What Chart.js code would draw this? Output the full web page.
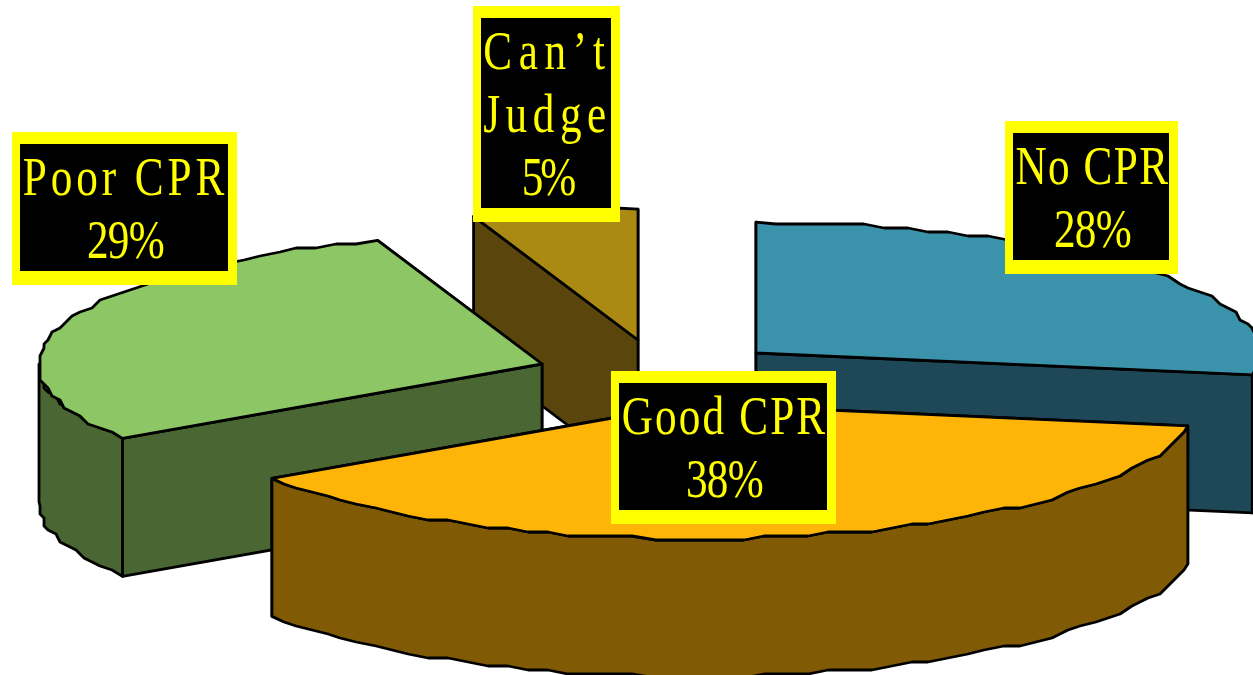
<!DOCTYPE html>
<html>
<head>
<meta charset="utf-8">
<style>
  html, body { margin: 0; padding: 0; background: #fff; overflow: hidden; }
  canvas { display: block; }
</style>
<script src="https://cdn.jsdelivr.net/npm/chart.js@4/dist/chart.umd.min.js"></script>
</head>
<body>
<canvas id="myChart" width="1253" height="675"></canvas>
<script>
// clockwise from 12 o'clock
var categories = ["No CPR", "Good CPR", "Poor CPR", ["Can\u2019t", "Judge"]];
var values = [27.6, 38.1, 29.0, 5.3];

var topColors = ["#3B92AB", "#FFB508", "#8CC665", "#AB8A14"];
var sideColors = ["#1E4758", "#805A04", "#4A6633", "#5A450C"];

// look of the tilted, exploded pie
var squashBack = 0.26;
var squashFront = 0.268;
var depth = 138;
var pieRadius = 503;
var explodeX = [129.5, 65, -84.5, 11.5];
var explodeY = [15.5, 66.5, 26.5, 2.5];
var paintOrder = [3, 0, 2, 1]; // back to front

// yellow label boxes: left, top, right, bottom of the outer edge
var labelBoxes = [
  [1005, 121, 1178, 274],
  [611, 371, 836, 524],
  [12, 132, 237, 285],
  [473, 6, 620, 222]
];
var charCell = 25.7;
var glyphWidth = 0.8;

function outline(cx, cy, from, to) {
  var pts = [];
  var n = Math.max(2, Math.ceil((to - from) * pieRadius / 22));
  for (var i = 0; i <= n; i++) {
    var a = from + (to - from) * i / n;
    var s = Math.sin(a);
    var x = cx + pieRadius * Math.cos(a);
    var y = cy + pieRadius * (s > 0 ? squashFront : squashBack) * s;
    // the original's outline is coarse and stepped
    if (i > 0 && i < n) {
      x = Math.round(x / 4) * 4;
      y = Math.round(y / 4) * 4;
    }
    pts.push([x, y]);
  }
  return pts;
}

function face(ctx, pts, fill) {
  ctx.beginPath();
  pts.forEach(function (p, i) {
    if (i == 0) ctx.moveTo(p[0], p[1]);
    else ctx.lineTo(p[0], p[1]);
  });
  ctx.closePath();
  ctx.fillStyle = fill;
  ctx.fill();
  ctx.stroke();
}

function drawSlice(ctx, arc, i) {
  var ax = arc.x + explodeX[i];
  var ay = arc.y + explodeY[i];
  var rim = outline(ax, ay, arc.startAngle, arc.endAngle);
  var ends = [rim[0], rim[rim.length - 1]];

  // cut faces, the one further back first
  ends.sort(function (p, q) { return p[1] - q[1]; });
  ends.forEach(function (p) {
    face(ctx, [[ax, ay], p, [p[0], p[1] + depth], [ax, ay + depth]], sideColors[i]);
  });

  // outer wall, only the part turned toward the viewer
  var lo = Math.max(arc.startAngle, 0);
  var hi = Math.min(arc.endAngle, Math.PI);
  if (lo < hi) {
    var upper = outline(ax, ay, lo, hi);
    var lower = upper.map(function (p) { return [p[0], p[1] + depth]; }).reverse();
    face(ctx, upper.concat(lower), sideColors[i]);
  }

  face(ctx, [[ax, ay]].concat(rim), topColors[i]);
}

function drawLabel(ctx, i) {
  var b = labelBoxes[i];
  ctx.fillStyle = "#FFFF00";
  ctx.fillRect(b[0], b[1], b[2] - b[0], b[3] - b[1]);
  ctx.fillStyle = "#000";
  ctx.fillRect(b[0] + 8, b[1] + 12, b[2] - b[0] - 17, b[3] - b[1] - 26);

  var lines = [].concat(categories[i], Math.round(values[i]) + "%");
  ctx.fillStyle = "#FFFF00";
  ctx.textAlign = "center";
  ctx.textBaseline = "alphabetic";
  lines.forEach(function (txt, k) {
    // the original font sets every character in the same width,
    // narrow glyphs with wide gaps
    ctx.font = "54px 'Liberation Serif'";
    ctx.letterSpacing = "0px";
    var natural = ctx.measureText(txt).width;
    var gap = (txt.length * charCell / glyphWidth - natural) / txt.length;
    ctx.save();
    ctx.letterSpacing = gap.toFixed(2) + "px";
    ctx.translate((b[0] + b[2]) / 2 + 1, b[1] + 63 + k * 63);
    ctx.scale(glyphWidth, 1);
    ctx.fillText(txt, 0, 0);
    ctx.restore();
  });
  ctx.letterSpacing = "0px";
}

var pie3d = {
  id: "pie3d",
  beforeDatasetsDraw: function (chart) {
    var ctx = chart.ctx;
    var arcs = chart.getDatasetMeta(0).data;
    ctx.save();
    ctx.strokeStyle = "#000";
    ctx.lineWidth = 2.8;
    ctx.lineJoin = "round";
    paintOrder.forEach(function (i) { drawSlice(ctx, arcs[i], i); });
    paintOrder.forEach(function (i) { drawLabel(ctx, i); });
    ctx.restore();
    return false;
  }
};

new Chart(document.getElementById("myChart"), {
  type: "pie",
  data: {
    labels: categories,
    datasets: [{ data: values, backgroundColor: topColors, borderColor: "#000" }]
  },
  options: {
    responsive: false,
    animation: false,
    radius: pieRadius,
    plugins: {
      legend: { display: false },
      title: { display: false },
      tooltip: { enabled: false }
    }
  },
  plugins: [pie3d]
});
</script>
</body>
</html>
